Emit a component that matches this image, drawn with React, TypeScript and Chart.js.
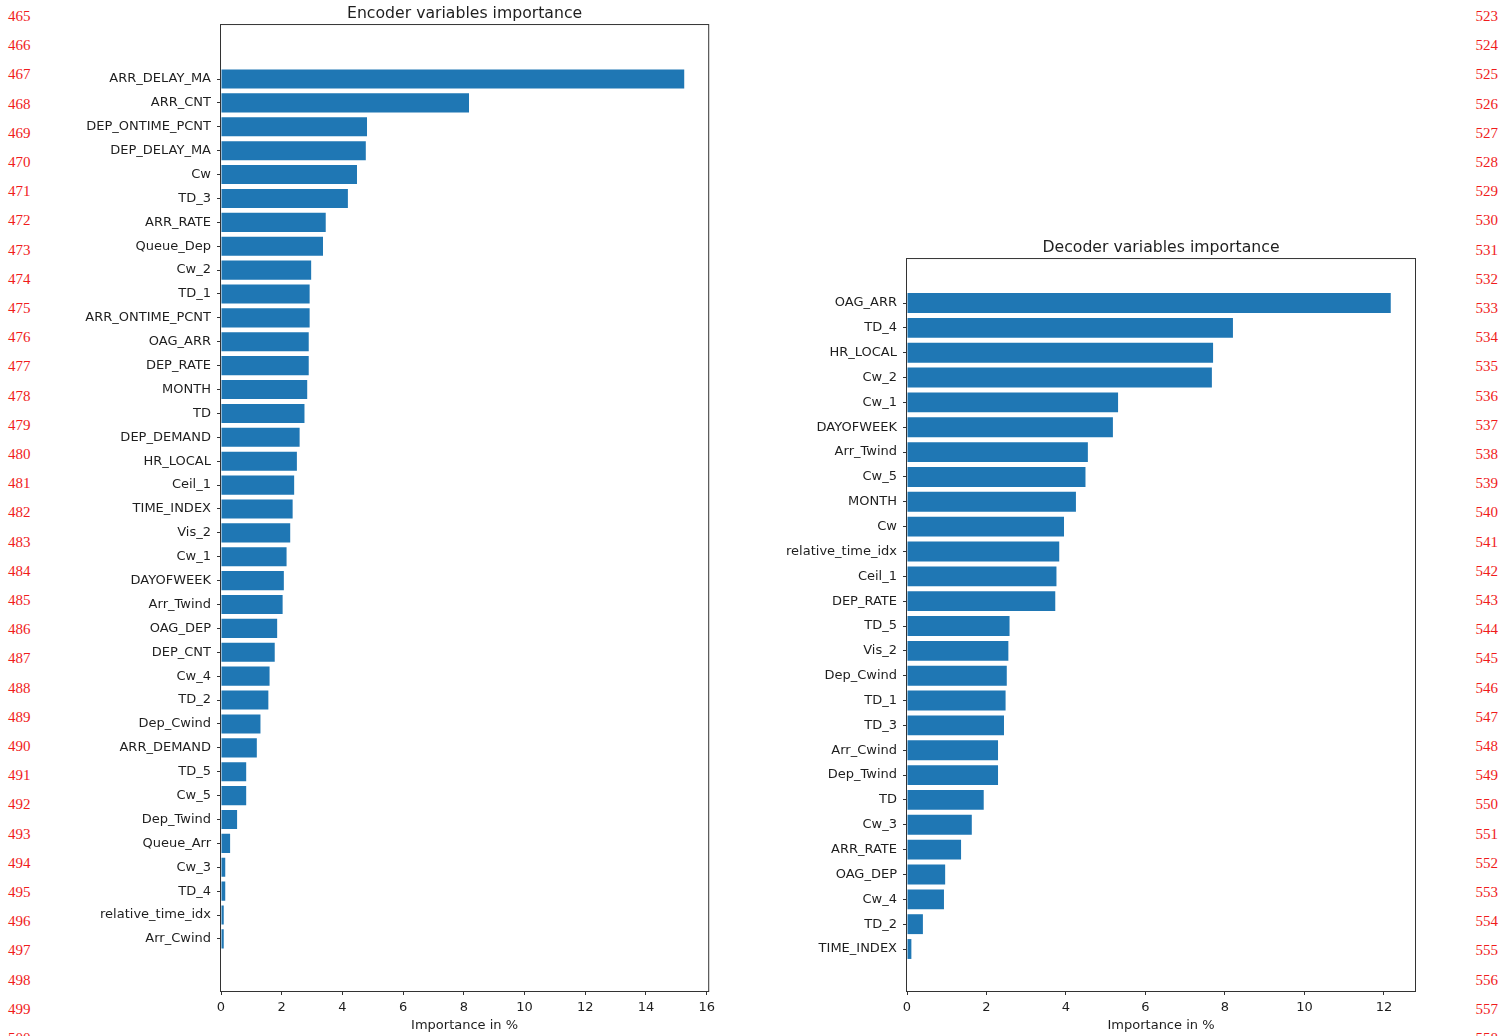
import React, { useEffect, useRef } from "react";
import { Chart, registerables } from "chart.js";

Chart.register(...registerables);

// ---------------- data ----------------
const encoderLabels = [
  "ARR_DELAY_MA", "ARR_CNT", "DEP_ONTIME_PCNT", "DEP_DELAY_MA", "Cw", "TD_3",
  "ARR_RATE", "Queue_Dep", "Cw_2", "TD_1", "ARR_ONTIME_PCNT", "OAG_ARR",
  "DEP_RATE", "MONTH", "TD", "DEP_DEMAND", "HR_LOCAL", "Ceil_1", "TIME_INDEX",
  "Vis_2", "Cw_1", "DAYOFWEEK", "Arr_Twind", "OAG_DEP", "DEP_CNT", "Cw_4",
  "TD_2", "Dep_Cwind", "ARR_DEMAND", "TD_5", "Cw_5", "Dep_Twind", "Queue_Arr",
  "Cw_3", "TD_4", "relative_time_idx", "Arr_Cwind",
];
const encoderValues = [
  15.26, 8.17, 4.81, 4.77, 4.48, 4.18,
  3.45, 3.36, 2.97, 2.92, 2.92, 2.89,
  2.89, 2.84, 2.75, 2.59, 2.5, 2.41, 2.36,
  2.28, 2.16, 2.07, 2.03, 1.85, 1.77, 1.6,
  1.56, 1.3, 1.18, 0.83, 0.83, 0.53, 0.3,
  0.14, 0.14, 0.09, 0.09,
];
const decoderLabels = [
  "OAG_ARR", "TD_4", "HR_LOCAL", "Cw_2", "Cw_1", "DAYOFWEEK", "Arr_Twind",
  "Cw_5", "MONTH", "Cw", "relative_time_idx", "Ceil_1", "DEP_RATE", "TD_5",
  "Vis_2", "Dep_Cwind", "TD_1", "TD_3", "Arr_Cwind", "Dep_Twind", "TD", "Cw_3",
  "ARR_RATE", "OAG_DEP", "Cw_4", "TD_2", "TIME_INDEX",
];
const decoderValues = [
  12.17, 8.2, 7.7, 7.67, 5.31, 5.18, 4.55,
  4.49, 4.25, 3.95, 3.83, 3.76, 3.73, 2.58,
  2.55, 2.51, 2.48, 2.44, 2.29, 2.29, 1.93, 1.63,
  1.36, 0.96, 0.93, 0.4, 0.11,
];
const encoderXTicks = [0, 2, 4, 6, 8, 10, 12, 14, 16];
const decoderXTicks = [0, 2, 4, 6, 8, 10, 12];
const encoderXMax = 16.05;
const decoderXMax = 12.78;
const encoderYLimits = [-2.26, 38.18];
const decoderYLimits = [-1.77, 27.69];

const leftLineNumbers = Array.from({ length: 36 }, (_, i) => 465 + i);
const rightLineNumbers = Array.from({ length: 36 }, (_, i) => 523 + i);

// ---------------- style ----------------
const BAR = "#1f77b4";
const INK = "#1e1e1e";
const FONT = "'DejaVu Sans', 'Noto Sans', sans-serif";

const framePlugin = {
  id: "frame",
  afterDatasetsDraw(chart: any) {
    const { ctx, chartArea } = chart;
    const { left, top, right, bottom } = chartArea;
    ctx.save();
    ctx.strokeStyle = "#333";
    ctx.lineWidth = 1;
    ctx.strokeRect(left - 0.5, top - 0.5, right - left + 1, bottom - top + 1);
    ctx.restore();
  },
};

function makeConfig(
  title: string,
  labels: string[],
  values: number[],
  xTicks: number[],
  xMax: number,
  yLimits: number[],
  yAxisWidth: number,
  padTop: number,
  padRight: number
): any {
  return {
    type: "bar",
    data: {
      datasets: [
        {
          data: values.map((v, i) => ({ x: v, y: i })),
          backgroundColor: BAR,
          borderWidth: 0,
          barPercentage: 0.8,
          categoryPercentage: 1,
        },
      ],
    },
    options: {
      indexAxis: "y",
      animation: false,
      responsive: false,
      devicePixelRatio: 1,
      layout: { padding: { left: 0, right: padRight, top: padTop, bottom: 0 } },
      plugins: {
        legend: { display: false },
        tooltip: { enabled: false },
        title: {
          display: true,
          text: title,
          fullSize: false,
          color: INK,
          font: { family: FONT, size: 15.7, weight: "normal", lineHeight: 1.2 },
          padding: { top: 5, bottom: 1.2 },
        },
      },
      scales: {
        y: {
          type: "linear",
          reverse: true,
          offset: false,
          min: yLimits[0],
          max: yLimits[1],
          afterBuildTicks: (scale: any) => {
            scale.ticks = labels.map((_, i) => ({ value: i }));
          },
          afterFit: (scale: any) => {
            scale.width = yAxisWidth;
          },
          ticks: {
            autoSkip: false,
            padding: 6,
            color: INK,
            font: { family: FONT, size: 13 },
            callback: (v: number) => labels[v] ?? "",
          },
          grid: {
            offset: false,
            drawOnChartArea: false,
            drawTicks: true,
            tickLength: 4,
            tickColor: "#333",
            tickWidth: 1,
          },
          border: { display: false },
        },
        x: {
          type: "linear",
          min: 0,
          max: xMax,
          offset: false,
          afterBuildTicks: (scale: any) => {
            scale.ticks = xTicks.map((v) => ({ value: v }));
          },
          afterFit: (scale: any) => {
            scale.height = 45;
          },
          ticks: {
            autoSkip: false,
            padding: 5,
            maxRotation: 0,
            color: INK,
            font: { family: FONT, size: 13 },
            callback: (v: number) => String(v),
          },
          grid: {
            offset: false,
            drawOnChartArea: false,
            drawTicks: true,
            tickLength: 4,
            tickColor: "#333",
            tickWidth: 1,
          },
          border: { display: false },
          title: {
            display: true,
            text: "Importance in %",
            color: INK,
            font: { family: FONT, size: 13, lineHeight: 1.2 },
            padding: { top: 0, bottom: 2.5 },
          },
        },
      },
    },
    plugins: [framePlugin],
  };
}

function BarPanel(props: { left: number; width: number; config: any }) {
  const ref = useRef<HTMLCanvasElement | null>(null);
  useEffect(() => {
    if (!ref.current) return;
    const chart = new Chart(ref.current, props.config);
    return () => chart.destroy();
  }, []);
  return (
    <canvas
      ref={ref}
      width={props.width}
      height={1036}
      style={{
        position: "absolute",
        left: props.left,
        top: 0,
        width: props.width,
        height: 1036,
        display: "block",
      }}
    />
  );
}

const lineNumStyle: React.CSSProperties = {
  position: "absolute",
  fontFamily: "'Liberation Serif', 'DejaVu Serif', serif",
  fontSize: 15,
  lineHeight: "18px",
  color: "#f01c1c",
  whiteSpace: "nowrap",
};

export default function App() {
  const encConfig = makeConfig(
    "Encoder variables importance",
    encoderLabels,
    encoderValues,
    encoderXTicks,
    encoderXMax,
    encoderYLimits,
    221,
    0,
    11
  );
  const decConfig = makeConfig(
    "Decoder variables importance",
    decoderLabels,
    decoderValues,
    decoderXTicks,
    decoderXMax,
    decoderYLimits,
    147,
    234,
    86
  );
  return (
    <div
      style={{
        position: "absolute",
        left: 0,
        top: 0,
        width: 1501,
        height: 1036,
        overflow: "hidden",
        background: "#fff",
      }}
    >
      {leftLineNumbers.map((num, i) => (
        <div key={"l" + num} style={{ ...lineNumStyle, left: 8, top: 16 + i * 29.2 - 9 }}>
          {num}
        </div>
      ))}
      {rightLineNumbers.map((num, i) => (
        <div
          key={"r" + num}
          style={{ ...lineNumStyle, right: 3, top: 16 + i * 29.2 - 9, textAlign: "right" }}
        >
          {num}
        </div>
      ))}
      <BarPanel left={0} width={720} config={encConfig} />
      <BarPanel left={760} width={741} config={decConfig} />
    </div>
  );
}
